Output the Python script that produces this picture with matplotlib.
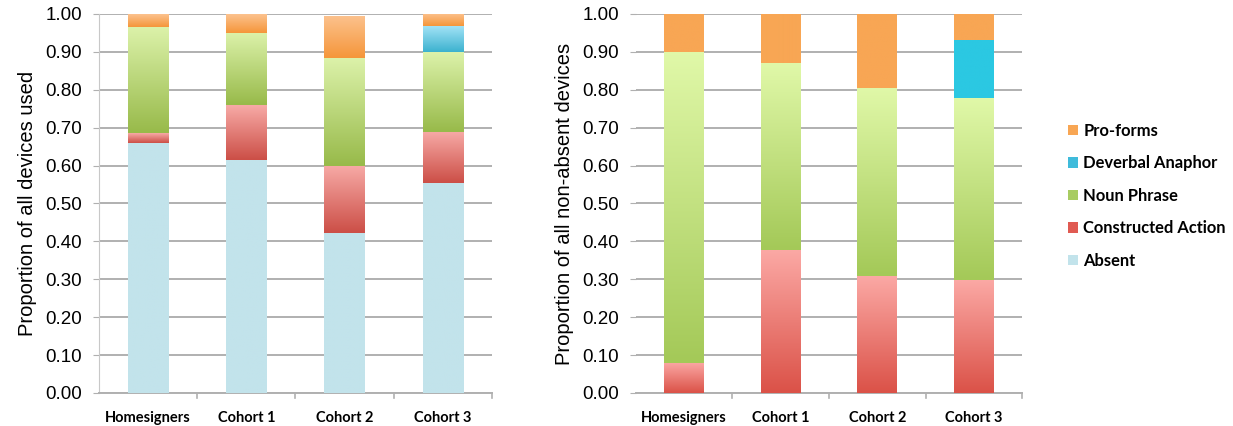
import numpy as np
import matplotlib.pyplot as plt
from matplotlib.colors import LinearSegmentedColormap
from matplotlib.patches import Patch

groups = ['Homesigners', 'Cohort 1', 'Cohort 2', 'Cohort 3']
series = ['Absent', 'Constructed Action', 'Noun Phrase', 'Deverbal Anaphor', 'Pro-forms']

# left panel: proportion of all devices used
left_absent = [0.660, 0.615, 0.422, 0.554]
left_ca = [0.026, 0.145, 0.177, 0.135]
left_np = [0.280, 0.190, 0.285, 0.211]
left_da = [0.000, 0.000, 0.000, 0.068]
left_pro = [0.034, 0.050, 0.111, 0.032]

# right panel: proportion of all non-absent devices
right_ca = [0.080, 0.377, 0.308, 0.297]
right_np = [0.820, 0.493, 0.498, 0.480]
right_da = [0.000, 0.000, 0.000, 0.154]
right_pro = [0.100, 0.130, 0.194, 0.069]

yticks = np.arange(0, 1.01, 0.1)

# (top colour, bottom colour) for gradients
left_cols = {
    'Absent': ('#c2e3eb', '#c2e3eb'),
    'Constructed Action': ('#f7aaa6', '#cc4f47'),
    'Noun Phrase': ('#dcf2aa', '#98ba4a'),
    'Deverbal Anaphor': ('#a2e2f6', '#3cb2cf'),
    'Pro-forms': ('#fcc28e', '#f5963a'),
}
right_cols = {
    'Constructed Action': ('#fba8a4', '#db5248'),
    'Noun Phrase': ('#e0f8a8', '#a4c958'),
    'Deverbal Anaphor': ('#2bc8e2', '#2bc8e2'),
    'Pro-forms': ('#f8a654', '#f8a654'),
}

tick_font = 'Liberation Sans'
bold_font = 'Lato'


def grad_bars(ax, x, heights, bottoms, cols):
    bars = ax.bar(x, heights, 0.41, bottom=bottoms, color='none', edgecolor='none', zorder=3)
    cmap = LinearSegmentedColormap.from_list('g', [cols[1], cols[0]])
    for b in bars:
        h = b.get_height()
        if h <= 0:
            continue
        x0, y0, w = b.get_x(), b.get_y(), b.get_width()
        grad = np.linspace(0, 1, 100).reshape(-1, 1)
        im = ax.imshow(grad, extent=(x0, x0 + w, y0, y0 + h), origin='lower',
                       cmap=cmap, aspect='auto', zorder=3, interpolation='bilinear')
        im.set_clip_path(b)


def style(ax, ylabel, spine):
    ax.set_xlim(-0.5, 3.5)
    ax.set_ylim(0, 1.0)
    ax.set_yticks(yticks)
    ax.set_yticklabels(['%.2f' % v for v in yticks], fontfamily=tick_font, fontsize=13.5)
    ax.set_ylabel(ylabel, fontfamily=tick_font, fontsize=14.5, labelpad=6)
    ax.set_xticks(range(4))
    ax.set_xticklabels(groups, fontfamily=bold_font, fontweight='bold', fontsize=10.5)
    ax.tick_params(axis='x', length=0, pad=13)
    ax.tick_params(axis='y', length=4, color='#b0b0b0', pad=8)
    for x in [0.5, 1.5, 2.5, 3.5]:
        ax.plot([x, x], [0, -0.012], color='#b0b0b0', lw=1.2, clip_on=False, zorder=1)
    ax.grid(axis='y', color='#b0b0b0', lw=1.4, zorder=0)
    ax.set_axisbelow(True)
    for s in ['top', 'right']:
        ax.spines[s].set_visible(False)
    ax.spines['bottom'].set_color('#b0b0b0')
    ax.spines['bottom'].set_linewidth(1.4)
    ax.spines['left'].set_color('#c8c8c8')
    ax.spines['left'].set_visible(spine)


fig = plt.figure(figsize=(12.33, 4.26), dpi=100)
ax1 = fig.add_axes([0.0803, 0.0775, 0.3187, 0.8897])
ax2 = fig.add_axes([0.5158, 0.0775, 0.3131, 0.8897])

x = np.arange(4)
bottom = np.zeros(4)
for name, vals in zip(series, [left_absent, left_ca, left_np, left_da, left_pro]):
    grad_bars(ax1, x, vals, bottom.copy(), left_cols[name])
    bottom += np.array(vals)

bottom = np.zeros(4)
for name, vals in zip(series[1:], [right_ca, right_np, right_da, right_pro]):
    grad_bars(ax2, x, vals, bottom.copy(), right_cols[name])
    bottom += np.array(vals)

style(ax1, 'Proportion of all devices used', True)
style(ax2, 'Proportion of all non-absent devices', False)

legend_cols = {'Pro-forms': '#f8a654', 'Deverbal Anaphor': '#3fbbdb',
               'Noun Phrase': '#a8cc62', 'Constructed Action': '#e05a52',
               'Absent': '#c2e3eb'}
handles = [Patch(facecolor=legend_cols[n], edgecolor='none') for n in series[::-1]]
fig.legend(handles, series[::-1], loc='center left', bbox_to_anchor=(0.866, 0.54),
           frameon=False, prop={'family': bold_font, 'weight': 'bold', 'size': 11.9},
           handlelength=0.6, handleheight=0.6, handletextpad=0.35, labelspacing=1.0,
           borderaxespad=0, borderpad=0)

fig.savefig('out.png', dpi=100)
